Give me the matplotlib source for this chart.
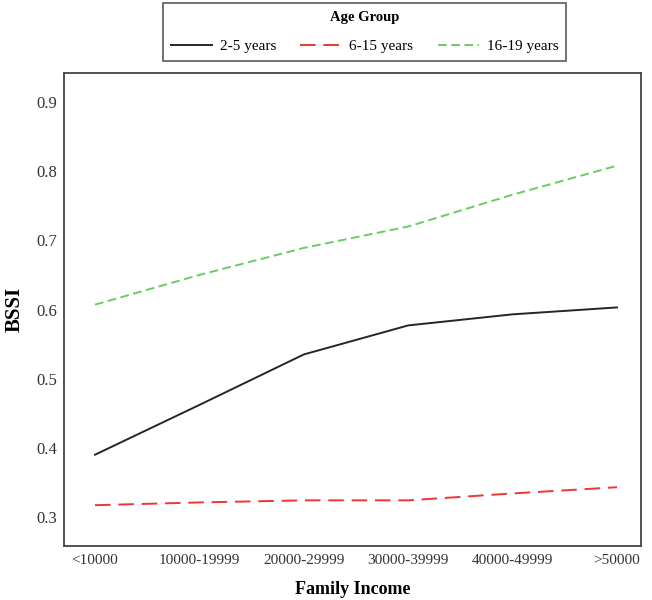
import matplotlib
matplotlib.use("Agg")
import matplotlib.pyplot as plt

categories = ["<10000", "10000-19999", "20000-29999", "30000-39999", "40000-49999", ">50000"]
age_2_5 = [0.390, 0.462, 0.535, 0.577, 0.593, 0.603]
age_6_15 = [0.317, 0.321, 0.324, 0.324, 0.334, 0.343]
age_16_19 = [0.607, 0.650, 0.689, 0.720, 0.766, 0.808]
series_labels = ["2-5 years", "6-15 years", "16-19 years"]
yticks = [0.3, 0.4, 0.5, 0.6, 0.7, 0.8, 0.9]

plt.rcParams['font.family'] = ['Liberation Serif', 'DejaVu Serif']

fig = plt.figure(figsize=(6.52, 6.0), dpi=100)
ax = fig.add_axes([64/652, 1-546/600, (641-64)/652, (546-73)/600])

x = list(range(len(categories)))
l1, = ax.plot(x, age_2_5, color="#262626", lw=1.4, label=series_labels[0])
l2, = ax.plot(x, age_6_15, color="#f03535", lw=1.4, dashes=(8, 4), label=series_labels[1])
l3, = ax.plot(x, age_16_19, color="#6ccb64", lw=1.4, dashes=(4.5, 2.3), label=series_labels[2])

ax.set_xlim(-0.297, 5.23)
ax.set_ylim(0.258, 0.942)
ax.set_xticks(x)
ax.set_xticklabels(categories, fontsize=11)
ax.set_yticks(yticks)
ax.set_yticklabels([f"{v:.1f}" for v in yticks], fontsize=12)
ax.tick_params(length=0, colors="#333333")
ax.tick_params(axis="y", pad=5)
ax.tick_params(axis="x", pad=6)
for s in ax.spines.values():
    s.set_color("#444444")
    s.set_linewidth(1.3)

ax.set_xlabel("Family Income", fontsize=13, fontweight="bold", labelpad=10)
ax.set_ylabel("BSSI", fontsize=15, fontweight="bold", labelpad=8)

leg = fig.legend(handles=[l1, l2, l3], loc="upper center", bbox_to_anchor=(364.5/652, 1-3/600),
                 ncol=3, title="Age Group", fontsize=11, frameon=True, fancybox=False,
                 edgecolor="#333333", handlelength=2.7, columnspacing=1.6, handletextpad=0.5,
                 borderpad=0.5, labelspacing=1.05, borderaxespad=0,
                 title_fontproperties={"weight": "bold", "size": 10.5})
leg.get_frame().set_linewidth(1.2)

fig.savefig("out.png", dpi=100)
